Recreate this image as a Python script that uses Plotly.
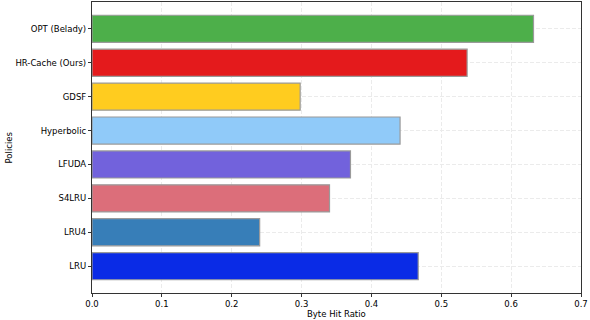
import plotly.graph_objects as go

policies = ["LRU", "LRU4", "S4LRU", "LFUDA", "Hyperbolic", "GDSF", "HR-Cache (Ours)", "OPT (Belady)"]
byte_hit_ratio = [0.467, 0.240, 0.340, 0.370, 0.441, 0.298, 0.537, 0.632]
bar_colors = ["#0a2be6", "#377eb8", "#dc6e7a", "#7262dc", "#90caf9", "#ffcc1f", "#e41a1c", "#4daf4a"]
x_ticks = [0.0, 0.1, 0.2, 0.3, 0.4, 0.5, 0.6, 0.7]

fig = go.Figure(
    go.Bar(
        x=byte_hit_ratio,
        y=policies,
        orientation="h",
        width=0.8,
        marker=dict(color=bar_colors, line=dict(color="#9a9a9a", width=1.2)),
    )
)

axis_style = dict(
    showgrid=True,
    gridcolor="#ebebeb",
    griddash="4px,2px",
    gridwidth=1,
    showline=True,
    linecolor="#333333",
    linewidth=1.2,
    mirror=True,
    ticks="outside",
    ticklen=3,
    tickcolor="#333333",
    zeroline=False,
    automargin=False,
)

fig.update_layout(
    width=590,
    height=320,
    margin=dict(l=92, r=9, t=2, b=27),
    paper_bgcolor="white",
    plot_bgcolor="white",
    font=dict(family="DejaVu Sans, sans-serif", size=8.5, color="black"),
    showlegend=False,
    xaxis=dict(
        range=[0, 0.7],
        tickvals=x_ticks,
        ticktext=[f"{v:.1f}" for v in x_ticks],
        **axis_style,
    ),
    yaxis=dict(range=[-0.79, 7.79], **axis_style),
    annotations=[
        dict(
            text="Byte Hit Ratio",
            xref="paper", yref="paper",
            x=0.5, y=0, yshift=-14,
            xanchor="center", yanchor="top",
            showarrow=False,
            font=dict(size=8.5),
        ),
        dict(
            text="Policies",
            xref="paper", yref="paper",
            x=0, xshift=-84, y=0.5,
            xanchor="center", yanchor="middle",
            textangle=-90,
            showarrow=False,
            font=dict(size=8.5),
        ),
    ],
)

fig.write_html(
    "out.html",
    config={"displayModeBar": False},
    post_script="document.body.style.margin='0';document.body.style.overflow='hidden';",
)
